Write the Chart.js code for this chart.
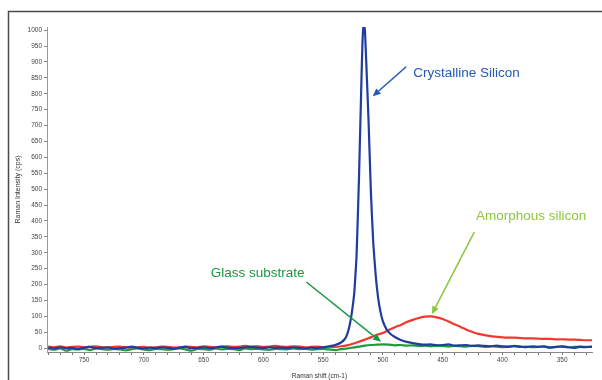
<!DOCTYPE html>
<html>
<head>
<meta charset="utf-8">
<script src="https://cdn.jsdelivr.net/npm/chart.js@4/dist/chart.umd.min.js"></script>
<style>
  html, body { margin: 0; padding: 0; background: #ffffff; }
  #wrap { width: 602px; height: 380px; }
</style>
</head>
<body>
<div id="wrap"><canvas id="spectrum" width="602" height="380"></canvas></div>
<script>
// Raman shift grid (cm-1) shared by the amorphous and glass spectra
const shiftGrid = [
  780,775,770,765,760,755,750,745,740,735,
  730,725,720,715,710,705,700,695,690,685,
  680,675,670,665,660,655,650,645,640,635,
  630,625,620,615,610,605,600,595,590,585,
  580,575,570,565,560,555,550,545,540,535,
  530,525,520,515,510,505,500,495,490,485,
  480,475,470,465,460,455,450,445,440,435,
  430,425,420,415,410,405,400,395,390,385,
  380,375,370,365,360,355,350,345,340,335,
  330,325
];

// Amorphous silicon intensity (cps)
const amorphousCps = [
  5,3,6,2,4,5,3,4,6,3,
  2,4,5,3,1,3,4,2,3,5,
  4,2,3,5,4,3,6,4,3,5,
  6,4,5,7,5,6,4,5,7,5,
  4,6,5,3,4,5,3,4,4,6,
  9,14,20,27,34,42,48,57,66,73,
  82,89,95,99,100,97,92,84,75,67,
  58,51,45,41,38,36,34,33,33,32,
  31,31,30,29,29,28,28,27,27,26,
  25,25
];

// Glass substrate intensity (cps)
const glassCps = [
  -2,-5,-1,-8,-3,-4,-2,-6,-1,-3,
  -5,-2,-4,-7,-3,-1,-4,-6,-2,-3,
  -5,-3,-1,-4,-8,-2,-3,-5,-1,-4,
  -2,-3,-6,-1,-3,-2,-4,-5,-2,-3,
  -4,-1,-3,-2,-5,-3,-2,-4,-6,-3,
  -1,2,5,8,10,11,12,11,9,10,
  8,9,7,8,6,8,7,5,7,6,
  5,7,6,4,6,5,3,5,6,4,
  5,3,4,6,2,4,5,3,4,5,
  4,4
];

// Crystalline silicon: finer sampling around the 516 cm-1 phonon line
const crystalShift = [
  780,775,770,765,760,755,750,745,740,735,
  730,725,720,715,710,705,700,695,690,685,
  680,675,670,665,660,655,650,645,640,635,
  630,625,620,615,610,605,600,595,590,585,
  580,575,570,565,560,555,550,
  545,540,535,532,530,528,526,524,523,522,520,518,517,516,515,514,512,510,
  508,506,504,502,500,497,494,490,485,480,475,470,
  465,460,455,450,445,440,435,430,425,420,415,410,405,400,395,390,
  385,380,375,370,365,360,355,350,345,340,335,330,325
];
const crystalCps = [
  2,-1,3,0,1,-3,2,4,0,1,
  3,-2,0,2,5,1,-1,2,0,3,
  1,-2,2,4,0,1,3,0,2,5,
  2,0,1,3,4,2,0,3,1,2,
  0,3,1,-1,2,0,3,
  6,10,18,28,42,68,110,170,225,290,530,830,965,1020,1000,910,720,490,
  330,230,160,115,85,60,46,35,26,20,16,13,
  11,12,9,10,12,8,9,10,7,9,7,6,8,6,4,7,
  5,3,6,4,5,2,4,6,3,1,4,3,5
];

// Axis tick labels
const shiftLabels = [750,700,650,600,550,500,450,400,350];
const cpsLabels = [0,50,100,150,200,250,300,350,400,450,500,550,600,650,700,750,800,850,900,950,1000];

// Callout labels, anchored in data units (Raman shift, cps)
const callouts = [
  { text: 'Crystalline Silicon', color: '#2358b4', textAt: [474.5, 866], from: [480.5, 885], to: [508.5, 792] },
  { text: 'Amorphous silicon',   color: '#8cc63f', textAt: [422, 416],   from: [423.5, 365], to: [459, 107] },
  { text: 'Glass substrate',     color: '#17983f', textAt: [644, 236],   from: [564, 208],   to: [501.5, 20] }
];

const toPoints = (xs, ys) => xs.map((x, i) => ({ x: x, y: ys[i] }));

const FONT = "'Liberation Sans', Arial, sans-serif";

// Minor tick positions along the shift axis (every 10 cm-1)
const shiftMinor = [];
for (let v = 330; v <= 780; v += 10) shiftMinor.push(v);

const framePlugin = {
  id: 'frame',
  beforeDraw(chart) {
    const ctx = chart.ctx;
    ctx.save();
    ctx.fillStyle = '#ffffff';
    ctx.fillRect(0, 0, chart.width, chart.height);
    ctx.strokeStyle = '#4a4a4a';
    ctx.lineWidth = 1.5;
    ctx.beginPath();
    ctx.moveTo(8.5, chart.height);
    ctx.lineTo(8.5, 11.5);
    ctx.lineTo(chart.width, 11.5);
    ctx.stroke();
    ctx.restore();
  }
};

const calloutPlugin = {
  id: 'callouts',
  afterDatasetsDraw(chart) {
    const ctx = chart.ctx;
    const xs = chart.scales.x, ys = chart.scales.y;
    ctx.save();
    callouts.forEach(c => {
      const x0 = xs.getPixelForValue(c.from[0]), y0 = ys.getPixelForValue(c.from[1]);
      const x1 = xs.getPixelForValue(c.to[0]),   y1 = ys.getPixelForValue(c.to[1]);
      const ang = Math.atan2(y1 - y0, x1 - x0);
      const head = 8, half = 3.5;
      const bx = x1 - head * Math.cos(ang), by = y1 - head * Math.sin(ang);
      ctx.strokeStyle = c.color;
      ctx.fillStyle = c.color;
      ctx.lineWidth = 1.5;
      ctx.beginPath();
      ctx.moveTo(x0, y0);
      ctx.lineTo(bx, by);
      ctx.stroke();
      ctx.beginPath();
      ctx.moveTo(x1, y1);
      ctx.lineTo(bx + half * Math.sin(ang), by - half * Math.cos(ang));
      ctx.lineTo(bx - half * Math.sin(ang), by + half * Math.cos(ang));
      ctx.closePath();
      ctx.fill();
      ctx.font = '13.5px ' + FONT;
      ctx.textAlign = 'left';
      ctx.textBaseline = 'middle';
      ctx.fillText(c.text, xs.getPixelForValue(c.textAt[0]), ys.getPixelForValue(c.textAt[1]));
    });
    ctx.restore();
  }
};

new Chart(document.getElementById('spectrum'), {
  type: 'line',
  data: {
    datasets: [
      {
        label: 'Crystalline Silicon',
        data: toPoints(crystalShift, crystalCps),
        borderColor: '#1e3da0',
        borderWidth: 2.2,
        pointRadius: 0,
        tension: 0.15
      },
      {
        label: 'Glass substrate',
        data: toPoints(shiftGrid, glassCps),
        borderColor: '#1e9a3c',
        borderWidth: 2.2,
        pointRadius: 0,
        tension: 0.2
      },
      {
        label: 'Amorphous silicon',
        data: toPoints(shiftGrid, amorphousCps),
        borderColor: '#f0382e',
        borderWidth: 2.2,
        pointRadius: 0,
        tension: 0.2
      }
    ]
  },
  options: {
    responsive: false,
    animation: false,
    devicePixelRatio: 1,
    parsing: false,
    layout: { autoPadding: false, padding: { top: 27, right: 10, left: 0, bottom: 0 } },
    plugins: { legend: { display: false }, tooltip: { enabled: false } },
    scales: {
      x: {
        type: 'linear',
        reverse: true,
        min: 325,
        max: 781,
        afterBuildTicks: s => { s.ticks = shiftMinor.map(v => ({ value: v })); },
        afterFit: s => { s.height = 28; },
        ticks: {
          autoSkip: false,
          maxRotation: 0,
          padding: 1,
          color: '#444',
          font: { family: FONT, size: 6.5 },
          callback: v => shiftLabels.includes(v) ? String(v) : ''
        },
        grid: { drawOnChartArea: false, drawTicks: true, tickLength: 3, tickColor: '#777' },
        border: { display: true, color: '#888', width: 1 },
        title: {
          display: true,
          text: 'Raman shift (cm-1)',
          color: '#333',
          font: { family: FONT, size: 6.5 },
          padding: { top: 4, bottom: 0 }
        }
      },
      y: {
        type: 'linear',
        min: -12,
        max: 1010,
        afterBuildTicks: s => { s.ticks = cpsLabels.map(v => ({ value: v })); },
        afterFit: s => { s.width = 47; },
        ticks: {
          autoSkip: false,
          padding: 2,
          color: '#444',
          font: { family: FONT, size: 6.5 },
          callback: v => String(v)
        },
        grid: { drawOnChartArea: false, drawTicks: true, tickLength: 3, tickColor: '#888' },
        border: { display: true, color: '#999', width: 1, dash: [1, 1] },
        title: {
          display: true,
          text: 'Raman Intensity (cps)',
          color: '#333',
          font: { family: FONT, size: 7 },
          padding: { top: 14, bottom: 0 }
        }
      }
    }
  },
  plugins: [framePlugin, calloutPlugin]
});
</script>
</body>
</html>
